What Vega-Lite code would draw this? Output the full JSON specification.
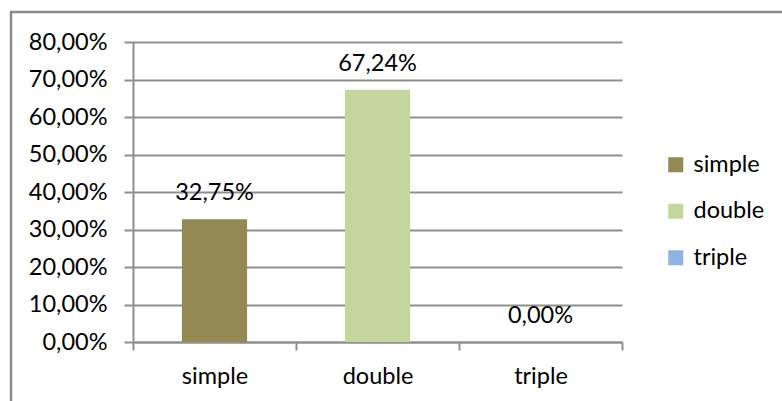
{
  "$schema": "https://vega.github.io/schema/vega-lite/v6.json",
  "width": 800,
  "height": 400,
  "autosize": {"type": "none"},
  "padding": {"left": 11, "top": 12, "right": 0, "bottom": 0},
  "background": "white",
  "config": {
    "locale": {
      "number": {"decimal": ",", "thousands": ".", "grouping": [3], "currency": ["", " €"]}
    },
    "view": {"stroke": "#8a8a8a", "strokeWidth": 2.5},
    "font": "Lato",
    "axis": {
      "labelFont": "Lato",
      "labelFontSize": 23.5,
      "labelColor": "#000000",
      "domainColor": "#8f8f8f",
      "domainWidth": 2,
      "tickColor": "#8f8f8f",
      "tickWidth": 2,
      "gridColor": "#8f8f8f",
      "gridWidth": 2,
      "title": null
    },
    "legend": {
      "labelFont": "Lato",
      "labelFontSize": 23.5,
      "labelColor": "#000000",
      "symbolType": "square",
      "symbolSize": 225,
      "symbolStrokeWidth": 0,
      "labelOffset": 6,
      "rowPadding": 21.5
    }
  },
  "data": {
    "values": [
      {"type": "simple", "share": 0.3275},
      {"type": "double", "share": 0.6724},
      {"type": "triple", "share": 0.0}
    ]
  },
  "encoding": {
    "x": {
      "field": "type",
      "type": "nominal",
      "sort": ["simple", "double", "triple"],
      "scale": {"range": [122, 611], "paddingInner": 0, "paddingOuter": 0},
      "axis": {
        "orient": "bottom",
        "offset": -70,
        "labelAngle": 0,
        "tickBand": "extent",
        "tickSize": 8,
        "labelPadding": 14,
        "grid": false
      }
    },
    "y": {
      "field": "share",
      "type": "quantitative",
      "scale": {"domain": [0, 0.8], "range": [330, 30], "nice": false},
      "axis": {
        "orient": "left",
        "offset": -122,
        "values": [0, 0.1, 0.2, 0.3, 0.4, 0.5, 0.6, 0.7, 0.8],
        "format": ".2%",
        "tickSize": 9,
        "labelPadding": 17,
        "grid": true
      }
    }
  },
  "layer": [
    {
      "mark": {"type": "bar", "width": {"band": 0.4}},
      "encoding": {
        "color": {
          "field": "type",
          "type": "nominal",
          "scale": {
            "domain": ["simple", "double", "triple"],
            "range": ["#938953", "#C3D69B", "#8EB4E3"]
          },
          "legend": {
            "orient": "none",
            "legendX": 653,
            "legendY": 141,
            "title": null
          }
        }
      }
    },
    {
      "mark": {
        "type": "text",
        "dy": -19,
        "baseline": "alphabetic",
        "font": "Lato",
        "fontSize": 23.5,
        "color": "#000000"
      },
      "encoding": {
        "text": {"field": "share", "type": "quantitative", "format": ".2%"}
      }
    }
  ]
}
